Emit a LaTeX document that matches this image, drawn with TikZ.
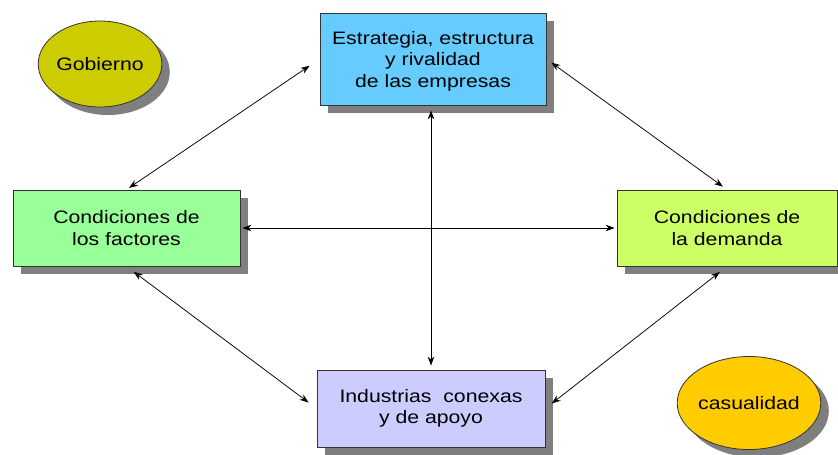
\documentclass[tikz,border=0pt]{standalone}
\usepackage{fontspec}
\setmainfont{Liberation Sans}[FakeStretch=1.18]
\usetikzlibrary{shadows,shapes.geometric,arrows.meta}
\definecolor{cblue}{HTML}{66CCFF}
\definecolor{cgreen}{HTML}{99FF99}
\definecolor{clime}{HTML}{CCFF66}
\definecolor{clav}{HTML}{CCCCFF}
\definecolor{colive}{HTML}{CCCC00}
\definecolor{cgold}{HTML}{FFCC00}
\definecolor{cshadow}{HTML}{7F7F7F}
\tikzset{
  shad/.style={drop shadow={shadow xshift=8pt,shadow yshift=-8pt,fill=cshadow,opacity=1}},
  factor/.style={draw=black!80,line width=0.8pt,rectangle,shad,align=center,
     font=\fontsize{18}{21.5}\selectfont,inner sep=0pt},
  oval/.style={draw=black!80,line width=0.8pt,ellipse,shad,inner sep=0pt,
     font=\fontsize{18}{21.5}\selectfont},
  link/.style={line width=0.75pt,{Stealth[length=9pt,width=6.5pt]}-{Stealth[length=9pt,width=6.5pt]}}
}
\begin{document}
\begin{tikzpicture}[x=1pt,y=-1pt]
\useasboundingbox (0,0) rectangle (838,455);
\node[factor,fill=cblue,minimum width=226pt,minimum height=92pt,text depth=-2pt] (top) at (433,59)
  {Estrategia, estructura\\ y rivalidad\\ de las empresas};
\node[factor,fill=cgreen,minimum width=227pt,minimum height=76pt] (left) at (126.5,228)
  {Condiciones de\\ los factores};
\node[factor,fill=clime,minimum width=220pt,minimum height=76pt] (right) at (727,228)
  {Condiciones de\\ la demanda};
\node[factor,fill=clav,minimum width=228pt,minimum height=77pt] (bottom) at (431,408.5)
  {Industrias\ \ conexas\\ y de apoyo};
\node[oval,fill=colive,minimum width=116pt,minimum height=86pt] (gob) at (100,64) {Gobierno};
\node[oval,fill=cgold,minimum width=112pt,minimum height=93pt] (cas) at (749,403) {casualidad};
\draw[link,shorten <=3pt,shorten >=12pt] (left.north) -- (top.west);
\draw[link,shorten <=6pt,shorten >=5pt] (top.east) -- (right.north);
\draw[link,shorten <=2pt,shorten >=2pt] (left.east) -- (right.west);
\draw[link,shorten <=5pt,shorten >=4pt] (top.south -| bottom.north) -- (bottom.north);
\draw[link,shorten <=9pt,shorten >=10pt] (left.south) -- (bottom.west);
\draw[link,shorten <=9pt,shorten >=8pt] (right.south) -- (bottom.east);
\end{tikzpicture}
\end{document}
